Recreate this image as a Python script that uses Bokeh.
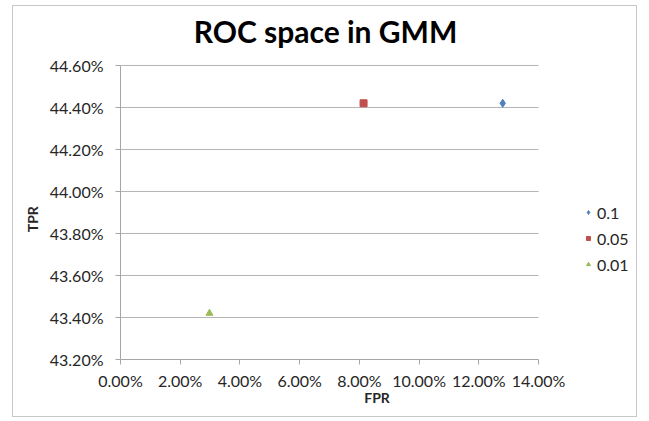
from bokeh.plotting import figure
from bokeh.models import (Range1d, FixedTicker, NumeralTickFormatter, Legend, LegendItem, Label)
from bokeh.embed import file_html
from bokeh.resources import INLINE

# data
series_names = ["0.1", "0.05", "0.01"]
fpr = [0.128, 0.0814, 0.0298]
tpr = [0.4442, 0.4442, 0.4342]
colors = ["#4F81BD", "#C0504D", "#9BBB59"]
markers = ["diamond", "square", "triangle"]
x_ticks = [0.0, 0.02, 0.04, 0.06, 0.08, 0.10, 0.12, 0.14]
y_ticks = [0.432, 0.434, 0.436, 0.438, 0.440, 0.442, 0.444, 0.446]

FONT = "Lato"
x_min, x_max = x_ticks[0], x_ticks[-1]
y_min, y_max = y_ticks[0], y_ticks[-1]

# the frame extends past the last ticks (right and top) to hold legend and title
p = figure(width=625, height=412, output_backend="svg", toolbar_location=None,
           x_range=Range1d(x_min, 0.1718), y_range=Range1d(y_min, 0.44876),
           min_border_left=107, min_border_right=5, min_border_top=1, min_border_bottom=59)
p.styles = {"border": "1px solid #c8c8c8", "margin-left": "12px", "margin-top": "5px"}
p.outline_line_color = None
p.background_fill_color = "white"
p.border_fill_color = "white"

p.xaxis.ticker = FixedTicker(ticks=x_ticks)
p.yaxis.ticker = FixedTicker(ticks=y_ticks)
p.xaxis.bounds = (x_min, x_max)
p.yaxis.bounds = (y_min, y_max)
p.xaxis.formatter = NumeralTickFormatter(format="0.00%")
p.yaxis.formatter = NumeralTickFormatter(format="0.00%")
for ax in (p.xaxis[0], p.yaxis[0]):
    ax.axis_line_color = "#a6a6a6"
    ax.major_tick_line_color = "#a6a6a6"
    ax.major_tick_out = 5
    ax.major_tick_in = 0
    ax.minor_tick_line_color = None
    ax.major_label_text_font = FONT
    ax.major_label_text_font_size = "16px"
    ax.major_label_text_color = "#262626"
    ax.axis_label_text_font = FONT
    ax.axis_label_text_font_size = "14px"
    ax.axis_label_text_font_style = "bold"
    ax.axis_label_text_color = "#262626"
p.xaxis.axis_label = "FPR"
# trailing non-breaking spaces shift the label down to the middle of the tick span
p.yaxis.axis_label = "TPR" + "\u00a0" * 21
p.xaxis.major_label_standoff = 6
p.yaxis.major_label_standoff = 12
p.xaxis.axis_label_standoff = -4
p.yaxis.axis_label_standoff = 6

p.xgrid.grid_line_color = None
p.ygrid.grid_line_color = None
# horizontal gridlines only across the tick span
grid_y = y_ticks[1:]
p.segment(x0=[x_min] * len(grid_y), x1=[x_max] * len(grid_y), y0=grid_y, y1=grid_y,
          line_color="#b4b4b4", line_width=1)

items = []
for name, x, y, c, m in zip(series_names, fpr, tpr, colors, markers):
    r = p.scatter([x], [y], marker=m, size=8 if m == "diamond" else 7,
                  fill_color=c, line_color=c)
    items.append(LegendItem(label=name, renderers=[r]))

legend = Legend(items=items, location=(463, 85), margin=0, padding=5,
                glyph_width=10, glyph_height=20, label_height=20, spacing=6,
                label_standoff=4, border_line_color=None, background_fill_alpha=0,
                label_text_font=FONT, label_text_font_size="16px", label_text_color="#262626")
p.add_layout(legend)

title = Label(x=205, y=329, x_units="screen", y_units="screen", text="ROC space in GMM",
              text_font=FONT, text_font_size="30px", text_font_style="bold",
              text_align="center", text_baseline="alphabetic", text_color="black")
p.add_layout(title)

open("out.html", "w").write(file_html(p, INLINE))
